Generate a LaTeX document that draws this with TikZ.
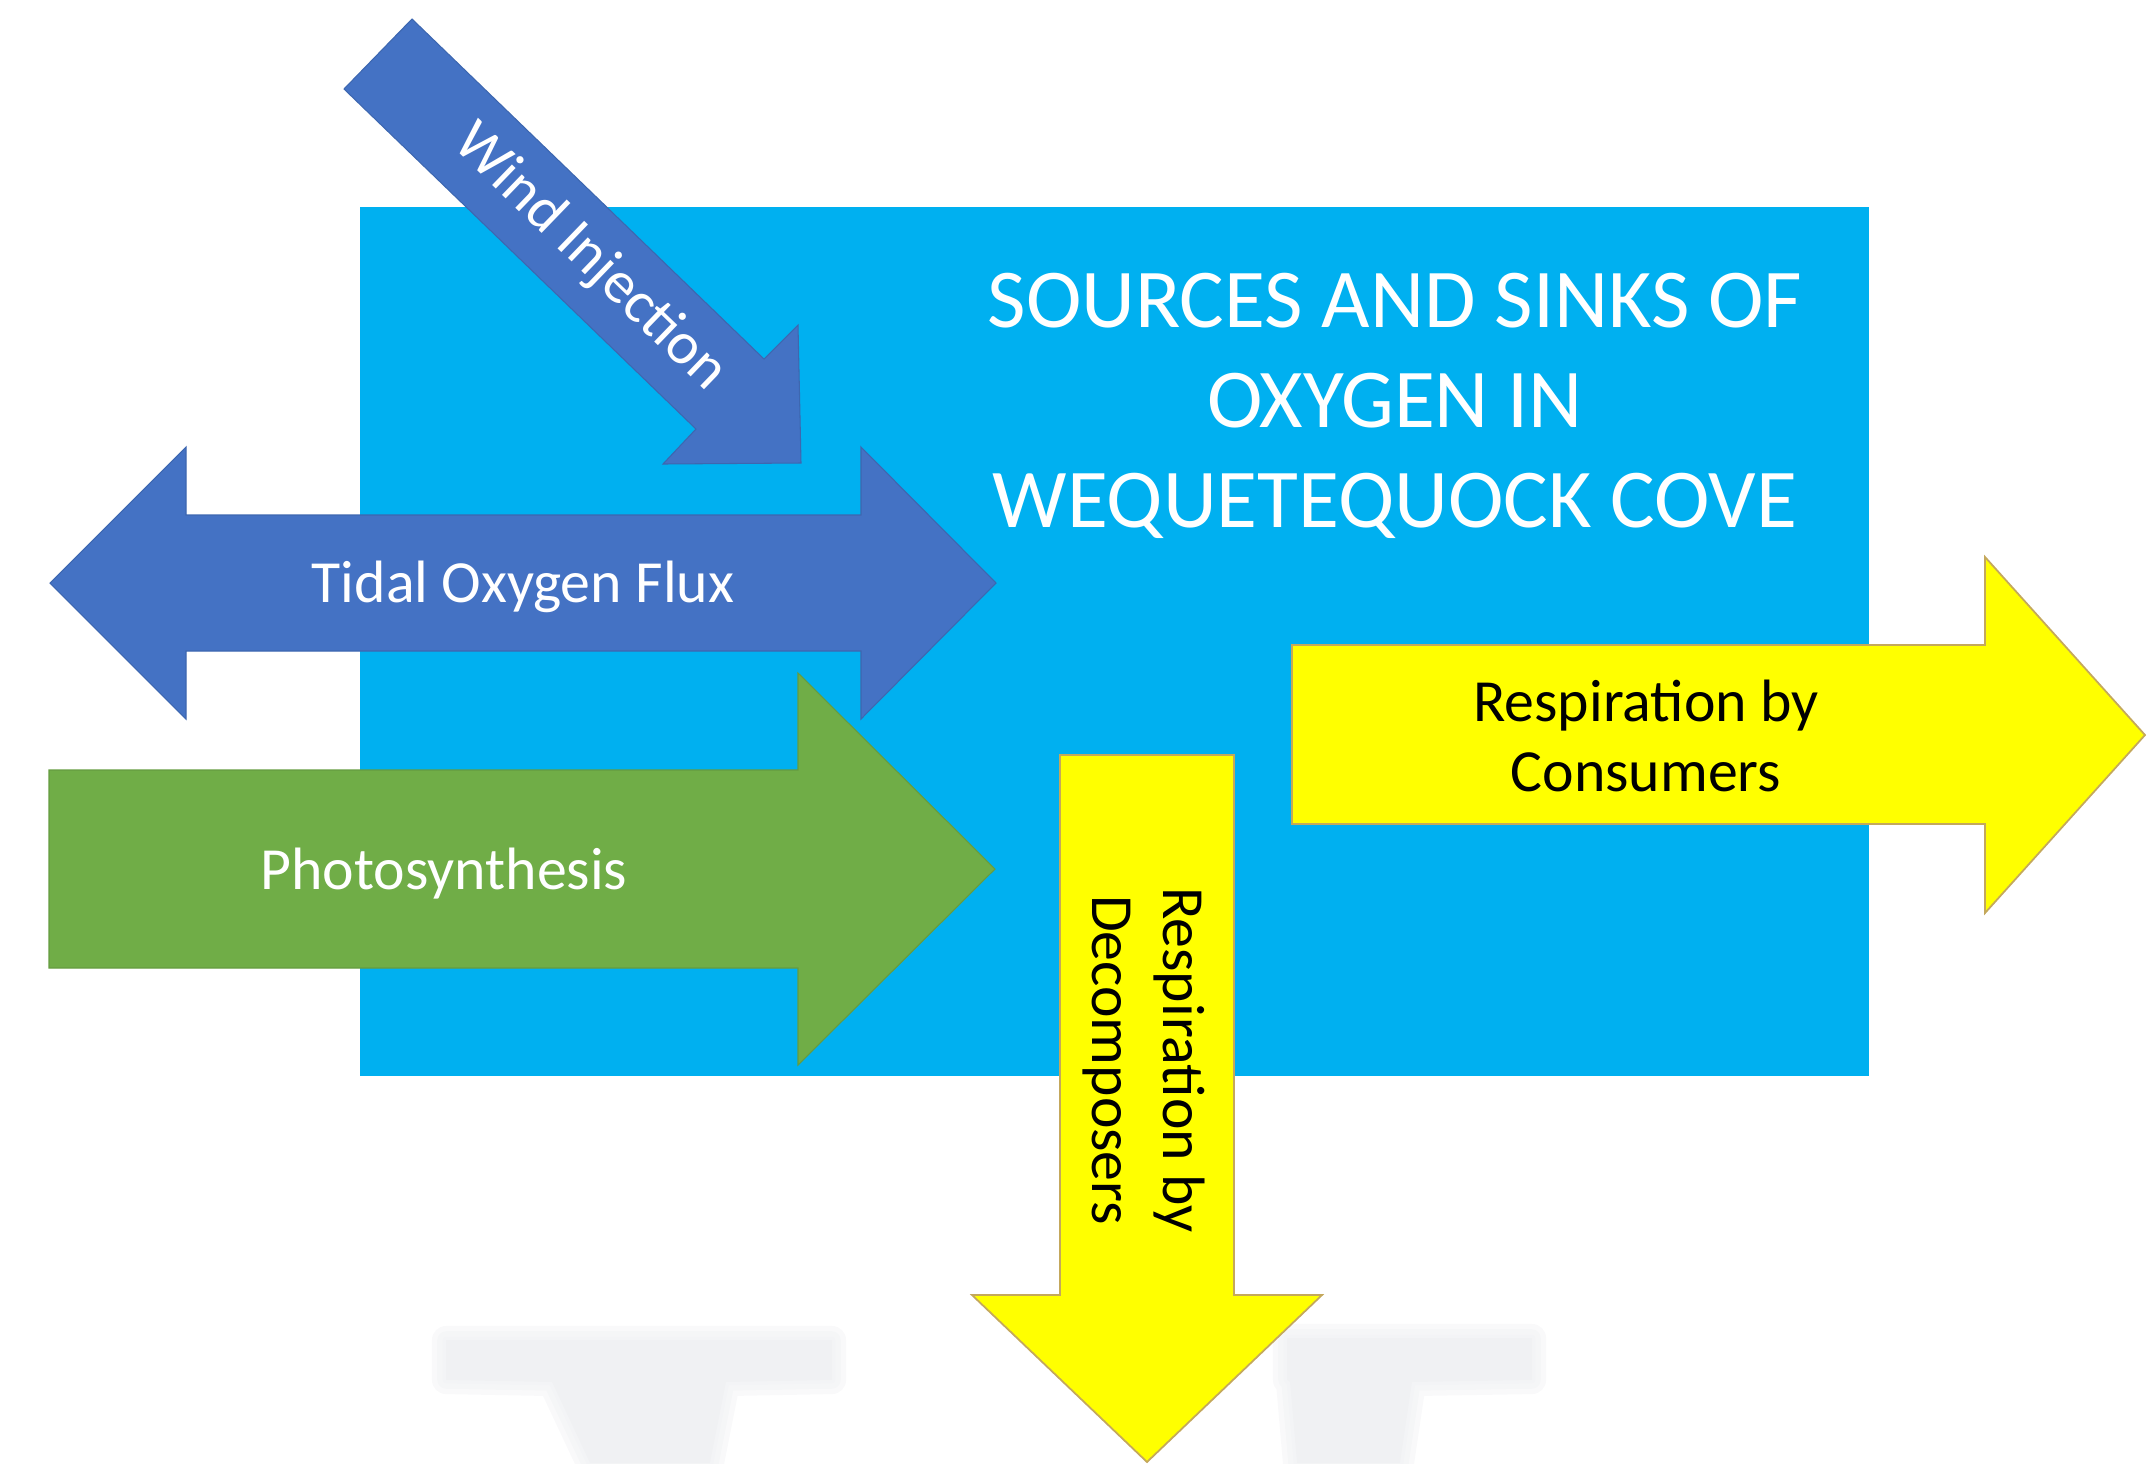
\documentclass[tikz,border=0pt]{standalone}
\usepackage{fontspec}
\setmainfont{Carlito}

\definecolor{cove}{RGB}{0,176,240}
\definecolor{tideblue}{RGB}{68,114,196}
\definecolor{leafgreen}{RGB}{112,173,71}
\definecolor{sinkyellow}{RGB}{255,255,0}
\definecolor{sinkedge}{RGB}{196,168,92}
\definecolor{ghost}{RGB}{240,241,243}

\begin{document}
\begin{tikzpicture}[x=0.01cm, y=-0.01cm,
        bluearrow/.style={fill=tideblue, draw=tideblue!90!black, line width=0.3pt},
        greenarrow/.style={fill=leafgreen, draw=leafgreen!90!black, line width=0.3pt},
        yellowarrow/.style={fill=sinkyellow, draw=sinkedge, line width=0.5pt},
        arrowtext/.style={font=\fontsize{17}{20}\selectfont, align=center, inner sep=0pt},
        titletext/.style={font=\fontsize{23.8}{28.4}\selectfont, text=white, align=center, inner sep=0pt}]

    \useasboundingbox (0,0) rectangle (2148,1463);

    % faded shadows at the bottom, soft edges
    \foreach \w in {8,5,2}{
        \draw[ghost, draw opacity=0.4, line width=\w pt, line join=round]
            (446,1340) -- (832,1340) -- (832,1380) -- (726,1382) -- (710,1463)
            -- (590,1463) -- (552,1382) -- (446,1380) -- cycle;
        \draw[ghost, draw opacity=0.4, line width=\w pt, line join=round]
            (1287,1338) -- (1532,1338) -- (1532,1380) -- (1412,1382) -- (1400,1463)
            -- (1297,1463) -- (1290,1382) -- (1287,1380) -- cycle;
    }
    \fill[ghost] (446,1340) -- (832,1340) -- (832,1380) -- (726,1382) -- (710,1463)
        -- (590,1463) -- (552,1382) -- (446,1380) -- cycle;
    \fill[ghost] (1287,1338) -- (1532,1338) -- (1532,1380) -- (1412,1382) -- (1400,1463)
        -- (1297,1463) -- (1290,1382) -- (1287,1380) -- cycle;

    % the cove
    \fill[cove] (360,207) rectangle (1869,1076);
    \node[titletext] (title) at (1395,406)
        {SOURCES AND SINKS OF\\OXYGEN IN\\WEQUETEQUOCK COVE};

    % sources
    \draw[bluearrow] (412,19) -- (764,359) -- (798,325) -- (801,463)
        -- (663,464) -- (696,429) -- (344,89) -- cycle;
    \node[arrowtext, text=white, rotate=-44] (wind) at (590,258) {Wind Injection};

    \draw[bluearrow] (50,583) -- (186,447) -- (186,515) -- (861,515) -- (861,447)
        -- (996,583) -- (861,719) -- (861,651) -- (186,651) -- (186,719) -- cycle;
    \node[arrowtext, text=white] (tidal) at (523,587) {Tidal Oxygen Flux};

    \draw[greenarrow] (49,770) -- (798,770) -- (798,673) -- (995,869)
        -- (798,1065) -- (798,968) -- (49,968) -- cycle;
    \node[arrowtext, text=white] (photo) at (444,874) {Photosynthesis};

    % sinks
    \draw[yellowarrow] (1060,755) -- (1234,755) -- (1234,1295) -- (1322,1295)
        -- (1147,1462) -- (972,1295) -- (1060,1295) -- cycle;
    \node[arrowtext, rotate=-90] (decomp) at (1144,1060) {Respiration by\\Decomposers};

    \draw[yellowarrow] (1292,645) -- (1985,645) -- (1985,557) -- (2145,735)
        -- (1985,913) -- (1985,824) -- (1292,824) -- cycle;
    \node[arrowtext] (consumers) at (1646,736) {Respiration by\\Consumers};

\end{tikzpicture}
\end{document}
